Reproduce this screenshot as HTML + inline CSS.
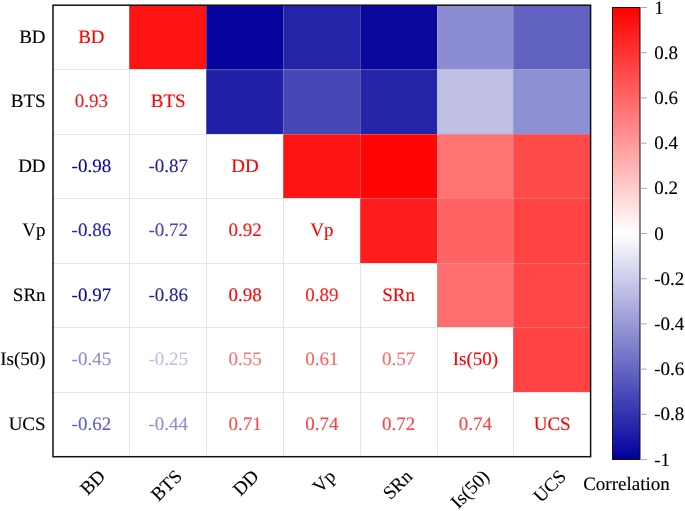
<!DOCTYPE html>
<html><head><meta charset="utf-8"><title>Correlation heatmap</title>
<style>
html,body{margin:0;padding:0;background:#fff;}
body{width:685px;height:511px;overflow:hidden;font-family:"Liberation Serif",serif;}
svg{display:block;will-change:transform;}
text{text-rendering:geometricPrecision;stroke-width:0.12px;}
</style></head><body>
<svg width="685" height="511" viewBox="0 0 685 511">
<rect x="0" y="0" width="685" height="511" fill="#fff"/>
<rect x="129.00" y="5.20" width="77.00" height="63.80" fill="#ff1212"/>
<rect x="206.00" y="5.20" width="77.00" height="63.80" fill="#05059d"/>
<rect x="283.00" y="5.20" width="77.00" height="63.80" fill="#2424a9"/>
<rect x="360.00" y="5.20" width="77.00" height="63.80" fill="#08089e"/>
<rect x="437.00" y="5.20" width="76.00" height="63.80" fill="#8c8cd2"/>
<rect x="513.00" y="5.20" width="77.60" height="63.80" fill="#6161c1"/>
<rect x="206.00" y="69.00" width="77.00" height="65.00" fill="#2121a8"/>
<rect x="283.00" y="69.00" width="77.00" height="65.00" fill="#4747b7"/>
<rect x="360.00" y="69.00" width="77.00" height="65.00" fill="#2424a9"/>
<rect x="437.00" y="69.00" width="76.00" height="65.00" fill="#bfbfe6"/>
<rect x="513.00" y="69.00" width="77.60" height="65.00" fill="#8f8fd3"/>
<rect x="283.00" y="134.00" width="77.00" height="64.00" fill="#ff1414"/>
<rect x="360.00" y="134.00" width="77.00" height="64.00" fill="#ff0505"/>
<rect x="437.00" y="134.00" width="76.00" height="64.00" fill="#ff7373"/>
<rect x="513.00" y="134.00" width="77.60" height="64.00" fill="#ff4a4a"/>
<rect x="360.00" y="198.00" width="77.00" height="65.00" fill="#ff1c1c"/>
<rect x="437.00" y="198.00" width="76.00" height="65.00" fill="#ff6363"/>
<rect x="513.00" y="198.00" width="77.60" height="65.00" fill="#ff4242"/>
<rect x="437.00" y="263.00" width="76.00" height="64.00" fill="#ff6e6e"/>
<rect x="513.00" y="263.00" width="77.60" height="64.00" fill="#ff4747"/>
<rect x="513.00" y="327.00" width="77.60" height="65.00" fill="#ff4242"/>
<line x1="129.50" y1="5.20" x2="129.50" y2="456.70" stroke="#bababa" stroke-opacity="0.35" stroke-width="1"/>
<line x1="53.00" y1="69.50" x2="590.60" y2="69.50" stroke="#bababa" stroke-opacity="0.35" stroke-width="1"/>
<line x1="206.50" y1="5.20" x2="206.50" y2="456.70" stroke="#bababa" stroke-opacity="0.35" stroke-width="1"/>
<line x1="53.00" y1="134.50" x2="590.60" y2="134.50" stroke="#bababa" stroke-opacity="0.35" stroke-width="1"/>
<line x1="283.50" y1="5.20" x2="283.50" y2="456.70" stroke="#bababa" stroke-opacity="0.35" stroke-width="1"/>
<line x1="53.00" y1="198.50" x2="590.60" y2="198.50" stroke="#bababa" stroke-opacity="0.35" stroke-width="1"/>
<line x1="360.50" y1="5.20" x2="360.50" y2="456.70" stroke="#bababa" stroke-opacity="0.35" stroke-width="1"/>
<line x1="53.00" y1="263.50" x2="590.60" y2="263.50" stroke="#bababa" stroke-opacity="0.35" stroke-width="1"/>
<line x1="437.50" y1="5.20" x2="437.50" y2="456.70" stroke="#bababa" stroke-opacity="0.35" stroke-width="1"/>
<line x1="53.00" y1="327.50" x2="590.60" y2="327.50" stroke="#bababa" stroke-opacity="0.35" stroke-width="1"/>
<line x1="513.50" y1="5.20" x2="513.50" y2="456.70" stroke="#bababa" stroke-opacity="0.35" stroke-width="1"/>
<line x1="53.00" y1="392.50" x2="590.60" y2="392.50" stroke="#bababa" stroke-opacity="0.35" stroke-width="1"/>
<rect x="53.00" y="5.20" width="537.60" height="451.50" fill="none" stroke="#111" stroke-width="1.5"/>
<g font-family='"Liberation Serif", serif' font-size="19.00" text-anchor="middle">
<text x="91.40" y="42.96" fill="#ff0000" stroke="#ff0000">BD</text>
<text x="91.40" y="107.46" fill="#ff1212" stroke="#ff1212">0.93</text>
<text x="168.20" y="107.46" fill="#ff0000" stroke="#ff0000">BTS</text>
<text x="91.40" y="171.96" fill="#05059d" stroke="#05059d">-0.98</text>
<text x="168.20" y="171.96" fill="#2121a8" stroke="#2121a8">-0.87</text>
<text x="245.00" y="171.96" fill="#ff0000" stroke="#ff0000">DD</text>
<text x="91.40" y="236.46" fill="#2424a9" stroke="#2424a9">-0.86</text>
<text x="168.20" y="236.46" fill="#4747b7" stroke="#4747b7">-0.72</text>
<text x="245.00" y="236.46" fill="#ff1414" stroke="#ff1414">0.92</text>
<text x="321.80" y="236.46" fill="#ff0000" stroke="#ff0000">Vp</text>
<text x="91.40" y="300.96" fill="#08089e" stroke="#08089e">-0.97</text>
<text x="168.20" y="300.96" fill="#2424a9" stroke="#2424a9">-0.86</text>
<text x="245.00" y="300.96" fill="#ff0505" stroke="#ff0505">0.98</text>
<text x="321.80" y="300.96" fill="#ff1c1c" stroke="#ff1c1c">0.89</text>
<text x="398.60" y="300.96" fill="#ff0000" stroke="#ff0000">SRn</text>
<text x="91.40" y="365.46" fill="#8c8cd2" stroke="#8c8cd2">-0.45</text>
<text x="168.20" y="365.46" fill="#bfbfe6" stroke="#bfbfe6">-0.25</text>
<text x="245.00" y="365.46" fill="#ff7373" stroke="#ff7373">0.55</text>
<text x="321.80" y="365.46" fill="#ff6363" stroke="#ff6363">0.61</text>
<text x="398.60" y="365.46" fill="#ff6e6e" stroke="#ff6e6e">0.57</text>
<text x="475.40" y="365.46" fill="#ff0000" stroke="#ff0000">Is(50)</text>
<text x="91.40" y="429.96" fill="#6161c1" stroke="#6161c1">-0.62</text>
<text x="168.20" y="429.96" fill="#8f8fd3" stroke="#8f8fd3">-0.44</text>
<text x="245.00" y="429.96" fill="#ff4a4a" stroke="#ff4a4a">0.71</text>
<text x="321.80" y="429.96" fill="#ff4242" stroke="#ff4242">0.74</text>
<text x="398.60" y="429.96" fill="#ff4747" stroke="#ff4747">0.72</text>
<text x="475.40" y="429.96" fill="#ff4242" stroke="#ff4242">0.74</text>
<text x="552.20" y="429.96" fill="#ff0000" stroke="#ff0000">UCS</text>
</g>
<g font-family='"Liberation Serif", serif' font-size="19.00" text-anchor="end" fill="#000" stroke="#000">
<text x="45.60" y="42.96">BD</text>
<text x="45.60" y="107.46">BTS</text>
<text x="45.60" y="171.96">DD</text>
<text x="45.60" y="236.46">Vp</text>
<text x="45.60" y="300.96">SRn</text>
<text x="45.60" y="365.46">Is(50)</text>
<text x="45.60" y="429.96">UCS</text>
</g>
<g font-family='"Liberation Serif", serif' font-size="19.00" text-anchor="end" fill="#000" stroke="#000">
<text transform="translate(101.90 473.00) rotate(-45)" x="0" y="6.29">BD</text>
<text transform="translate(178.70 473.00) rotate(-45)" x="0" y="6.29">BTS</text>
<text transform="translate(255.50 473.00) rotate(-45)" x="0" y="6.29">DD</text>
<text transform="translate(332.30 473.00) rotate(-45)" x="0" y="6.29">Vp</text>
<text transform="translate(409.10 473.00) rotate(-45)" x="0" y="6.29">SRn</text>
<text transform="translate(485.90 473.00) rotate(-45)" x="0" y="6.29">Is(50)</text>
<text transform="translate(562.70 473.00) rotate(-45)" x="0" y="6.29">UCS</text>
</g>
<defs><linearGradient id="cb" x1="0" y1="0" x2="0" y2="1">
<stop offset="0" stop-color="#ff0000"/><stop offset="0.5" stop-color="#ffffff"/><stop offset="1" stop-color="#00009b"/>
</linearGradient></defs>
<rect x="612.50" y="7.50" width="27.50" height="452.00" fill="url(#cb)" stroke="#111" stroke-width="1"/>
<g font-family='"Liberation Serif", serif' font-size="19.00" fill="#000" stroke="#000">
<line x1="640.50" y1="7.50" x2="647.00" y2="7.50" stroke="#aaa" stroke-width="1"/>
<text x="654.30" y="13.58">1</text>
<line x1="640.50" y1="52.70" x2="647.00" y2="52.70" stroke="#aaa" stroke-width="1"/>
<text x="654.30" y="58.78">0.8</text>
<line x1="640.50" y1="97.90" x2="647.00" y2="97.90" stroke="#aaa" stroke-width="1"/>
<text x="654.30" y="103.98">0.6</text>
<line x1="640.50" y1="143.10" x2="647.00" y2="143.10" stroke="#aaa" stroke-width="1"/>
<text x="654.30" y="149.18">0.4</text>
<line x1="640.50" y1="188.30" x2="647.00" y2="188.30" stroke="#aaa" stroke-width="1"/>
<text x="654.30" y="194.38">0.2</text>
<line x1="640.50" y1="233.50" x2="647.00" y2="233.50" stroke="#aaa" stroke-width="1"/>
<text x="654.30" y="239.58">0</text>
<line x1="640.50" y1="278.70" x2="647.00" y2="278.70" stroke="#aaa" stroke-width="1"/>
<text x="654.30" y="284.78">-0.2</text>
<line x1="640.50" y1="323.90" x2="647.00" y2="323.90" stroke="#aaa" stroke-width="1"/>
<text x="654.30" y="329.98">-0.4</text>
<line x1="640.50" y1="369.10" x2="647.00" y2="369.10" stroke="#aaa" stroke-width="1"/>
<text x="654.30" y="375.18">-0.6</text>
<line x1="640.50" y1="414.30" x2="647.00" y2="414.30" stroke="#aaa" stroke-width="1"/>
<text x="654.30" y="420.38">-0.8</text>
<line x1="640.50" y1="459.50" x2="647.00" y2="459.50" stroke="#aaa" stroke-width="1"/>
<text x="654.30" y="465.58">-1</text>
<text x="583.2" y="489.5">Correlation</text>
</g>
</svg>
</body></html>
